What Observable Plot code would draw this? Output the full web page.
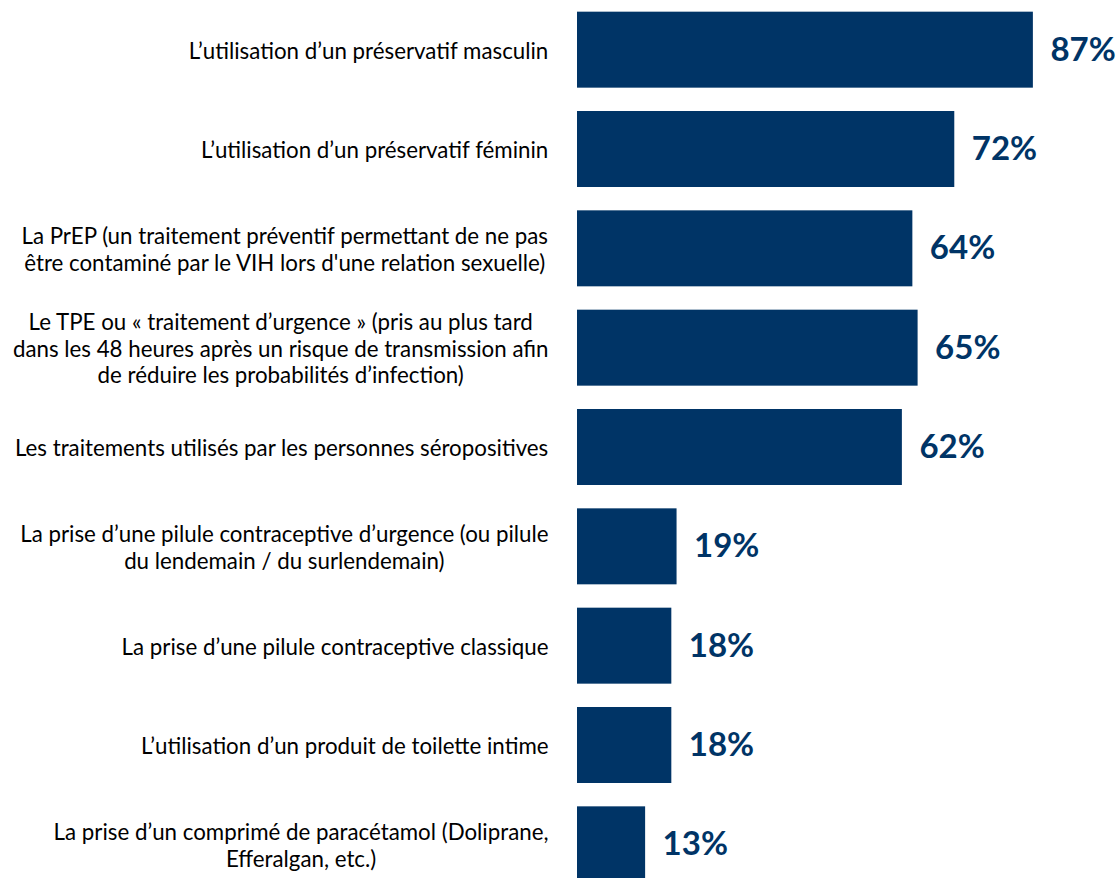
<!DOCTYPE html>
<html>
<head>
<meta charset="utf-8">
<script src="https://cdn.jsdelivr.net/npm/d3@7"></script>
<script src="https://cdn.jsdelivr.net/npm/@observablehq/plot@0.6"></script>
<style>
  html, body { margin: 0; padding: 0; background: #fff; }
  #chart svg { display: block; }
</style>
</head>
<body>
<div id="chart"></div>
<script>
const categories = [
  "L’utilisation d’un préservatif masculin",
  "L’utilisation d’un préservatif féminin",
  "La PrEP (un traitement préventif permettant de ne pas\nêtre contaminé par le VIH lors d'une relation sexuelle)",
  "Le TPE ou « traitement d’urgence » (pris au plus tard\ndans les 48 heures après un risque de transmission afin\nde réduire les probabilités d’infection)",
  "Les traitements utilisés par les personnes séropositives",
  "La prise d’une pilule contraceptive d’urgence (ou pilule\ndu lendemain / du surlendemain)",
  "La prise d’une pilule contraceptive classique",
  "L’utilisation d’un produit de toilette intime",
  "La prise d’un comprimé de paracétamol (Doliprane,\nEfferalgan, etc.)"
];
const values = [87, 72, 64, 65, 62, 19, 18, 18, 13];

const data = categories.map((c, i) => ({category: c, value: values[i]}));

const barColor = "#003466";
const labelFont = "Lato";

// measure text to size the label font like the reference
const ctx = document.createElement("canvas").getContext("2d");
ctx.font = `100px ${labelFont}`;
const refW = ctx.measureText("Les traitements utilisés par les personnes séropositives").width;
const fontSize = Math.round(534 * 100 / refW * 10) / 10;
ctx.font = `${fontSize}px ${labelFont}`;
const lineH = 26.7;

const labelMarks = data.map(d => {
  const lines = d.category.split("\n");
  const w = d3.max(lines, l => ctx.measureText(l).width);
  return Plot.text([d], {
    x: () => 0,
    y: "category",
    text: "category",
    textAnchor: "middle",
    lineAnchor: "middle",
    lineHeight: lineH / fontSize,
    dx: -(29 + w / 2),
    fontFamily: labelFont,
    fontSize: fontSize,
    fill: "#000"
  });
});

const chart = Plot.plot({
  width: 1117,
  height: 878,
  marginLeft: 0,
  marginRight: 0,
  marginTop: 0,
  marginBottom: 0,
  x: {domain: [0, 100], range: [577, 1101], axis: null},
  y: {domain: categories, range: [0, 894], paddingInner: 0.235, paddingOuter: 0.1175, round: false, axis: null},
  marks: [
    Plot.barX(data, {x: "value", y: "category", fill: barColor}),
    Plot.text(data, {
      x: "value",
      y: "category",
      text: d => d.value + "%",
      textAnchor: "start",
      dx: 17,
      fontFamily: labelFont,
      fontWeight: "bold",
      fontSize: 33,
      fill: barColor
    }),
    ...labelMarks
  ]
});

document.getElementById("chart").appendChild(chart);
</script>
</body>
</html>
